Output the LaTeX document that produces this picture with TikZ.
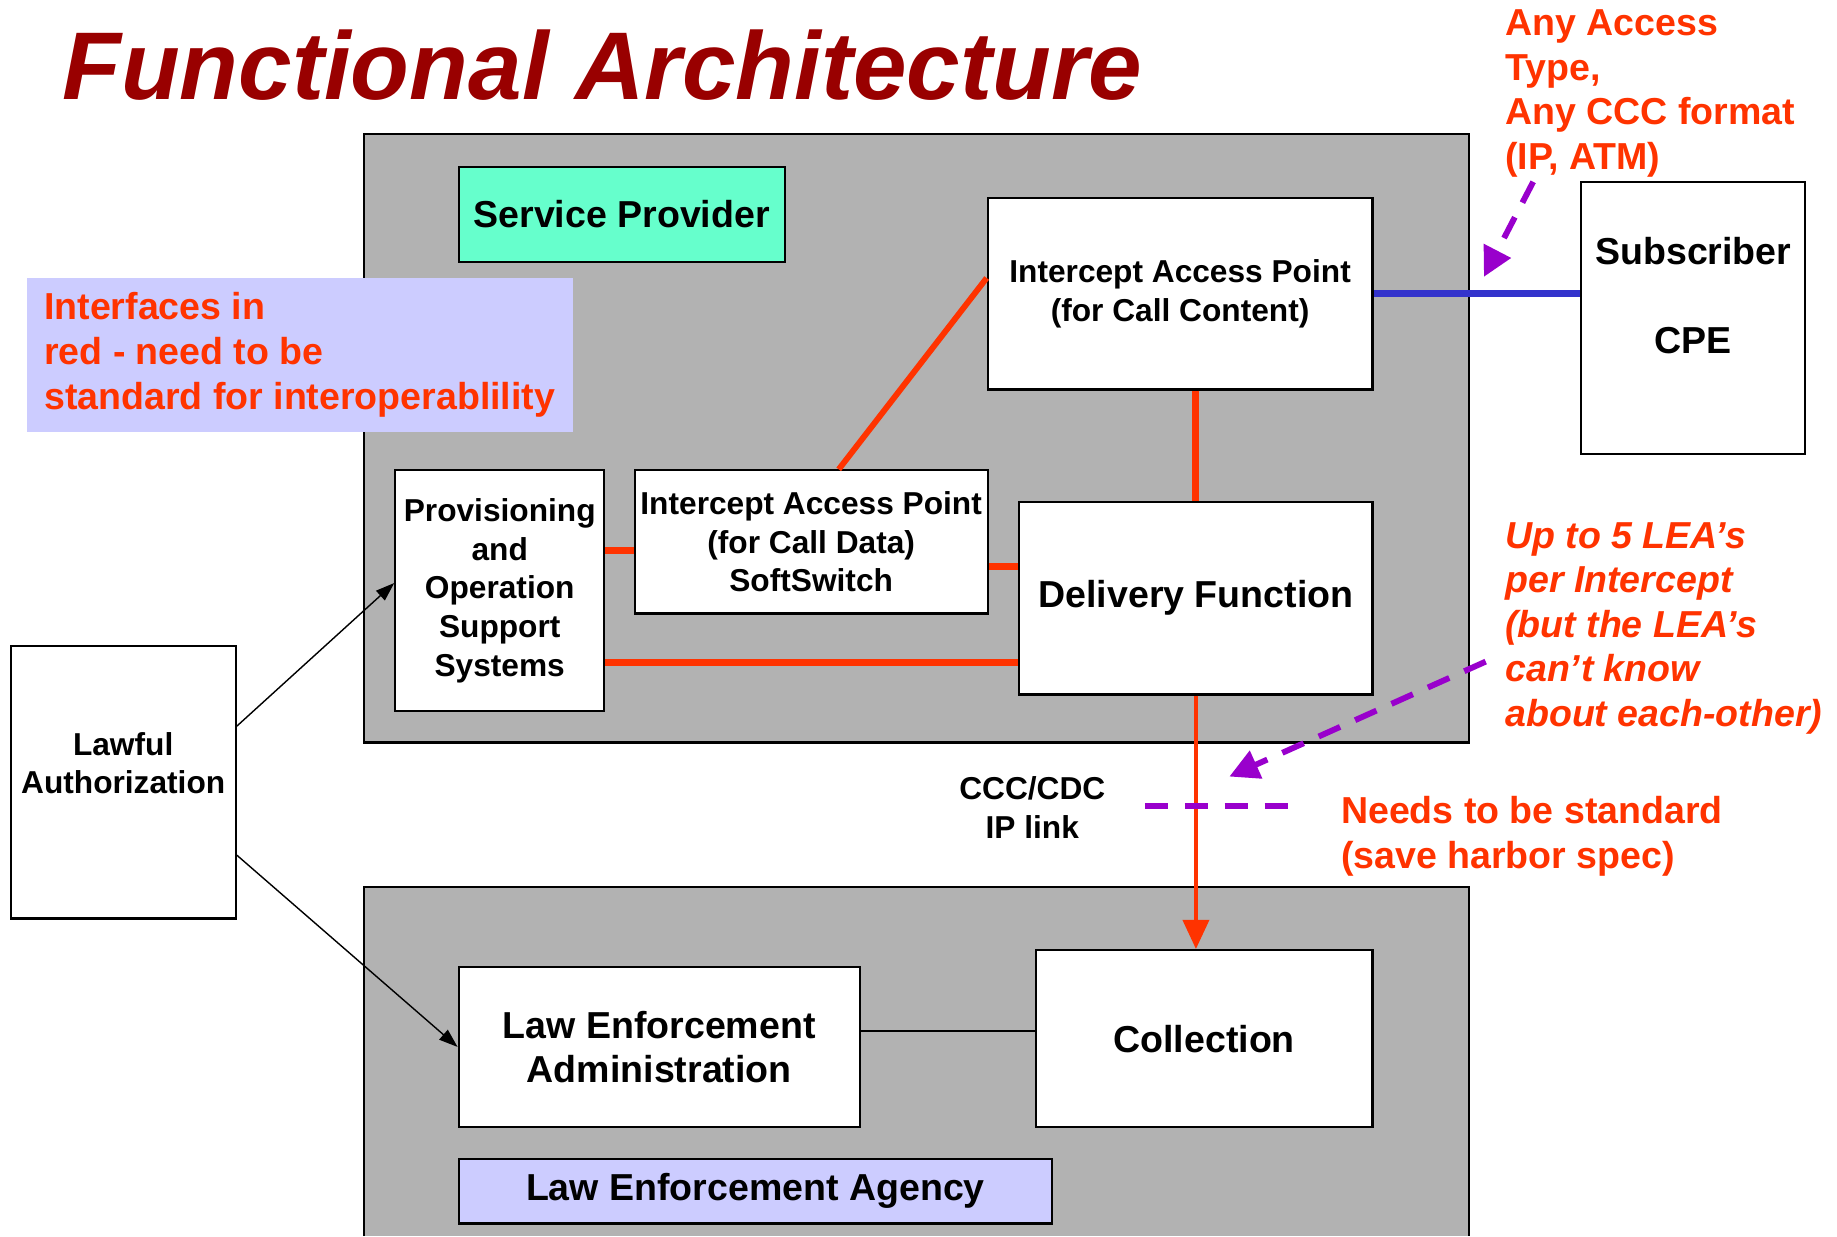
\documentclass[tikz,border=0pt]{standalone}
\usepackage{fontspec}
\setmainfont{Liberation Sans}
\usetikzlibrary{arrows.meta}
\definecolor{regiongray}{HTML}{B2B2B2}
\definecolor{spgreen}{HTML}{66FFCC}
\definecolor{leablue}{HTML}{CCCCFF}
\definecolor{ifacered}{HTML}{FF3300}
\definecolor{cpeblue}{HTML}{3333CC}
\definecolor{hintpurple}{HTML}{9900CC}
\definecolor{titlered}{HTML}{990000}
\begin{document}
\begin{tikzpicture}[x=1pt,y=-1pt,
  box/.style={draw,line width=1.8pt,fill=white,align=center,inner sep=0pt},
  region/.style={draw,line width=1.8pt,fill=regiongray},
  big/.style={font=\fontsize{32}{38}\selectfont\bfseries},
  small/.style={font=\fontsize{27}{33}\selectfont\bfseries},
  note/.style={text=ifacered,align=left,inner sep=0pt,big},
  iface/.style={draw=ifacered,line width=6pt},
  hint/.style={draw=hintpurple,line width=5pt,dash pattern=on 20pt off 14pt,-{Triangle[length=25pt,width=25pt]}},
  ctl/.style={line width=1.2pt,-{Triangle[length=16pt,width=11pt]}}]
\useasboundingbox (0,0) rectangle (1566,1053.7);
\node[anchor=base west,inner sep=0pt,text=titlered,font=\fontsize{82}{90}\selectfont\bfseries\itshape] (title) at (53,85) {Functional Architecture};
\draw[region] (310,114) rectangle (1252,633);
\fill[regiongray] (310,756) rectangle (1252,1053.7);
\draw[line width=1.8pt] (310,1053.7) |- (1252,756) -- (1252,1053.7);
\node[box,fill=spgreen,big,minimum width=278pt,minimum height=81pt] (sp) at (530,182.5) {Service Provider};
\node[fill=leablue,note,inner xsep=15pt,minimum width=465pt,minimum height=131pt] (ifacenote) at (255.5,302.5) {Interfaces in\\red - need to be\\standard for interoperablility};
\node[box,small,minimum width=328pt,minimum height=163pt] (iapcc) at (1006,250.5) {Intercept Access Point\\(for Call Content)};
\node[box,big,minimum width=191pt,minimum height=232pt] (subcpe) at (1443.5,271) {Subscriber\\[38pt]CPE\\~};
\node[box,small,minimum width=178pt,minimum height=205pt] (prov) at (426,503.5) {Provisioning\\and\\Operation\\Support\\Systems};
\node[box,small,minimum width=301pt,minimum height=122pt] (iapcd) at (691.5,462) {Intercept Access Point\\(for Call Data)\\SoftSwitch};
\node[box,big,minimum width=301pt,minimum height=164pt] (delivery) at (1019.5,510) {Delivery Function};
\node[box,small,minimum width=192pt,minimum height=232pt] (lawful) at (105,667) {Lawful\\Authorization\\~};
\node[box,big,minimum width=342pt,minimum height=137pt] (leadmin) at (562,892.5) {Law Enforcement\\Administration};
\node[box,big,minimum width=287pt,minimum height=151pt] (collection) at (1026.5,885.5) {Collection};
\node[box,fill=leablue,big,minimum width=506pt,minimum height=55pt] (agency) at (644,1015.5) {Law Enforcement Agency};
\node[small,align=center] (iplink) at (880,688.5) {CCC/CDC\\IP link};
\node[note,anchor=north west] (anyaccess) at (1283,8) {Any Access\\Type,\\Any CCC format\\(IP, ATM)};
\node[note,font=\fontsize{32}{38}\selectfont\bfseries\itshape,anchor=north west] (fivelea) at (1283,445) {Up to 5 LEA’s\\per Intercept\\(but the LEA’s\\can’t know\\about each-other)};
\node[note,anchor=north west] (needstd) at (1143,679) {Needs to be standard\\(save harbor spec)};
\draw[iface] ([yshift=34.5pt]prov.east) -- ([yshift=34.5pt]prov.east -| iapcd.west);
\draw[iface] ([yshift=-21pt]iapcd.east) -- ([yshift=-21pt]iapcd.east -| delivery.west);
\draw[iface] ([yshift=-61.5pt]prov.east) -- ([yshift=-61.5pt]prov.east -| delivery.west);
\draw[iface,line width=5pt] ([xshift=23.5pt]iapcd.north) -- ([yshift=13.5pt]iapcc.west);
\draw[iface] (delivery.north |- iapcc.south) -- (delivery.north);
\draw[iface,line width=4pt,-{Triangle[length=25pt,width=22pt]}] (delivery.south) -- (delivery.south |- collection.north);
\draw[draw=cpeblue,line width=6pt] (iapcc.east) -- (iapcc.east -| subcpe.west);
\draw[ctl] ([yshift=48pt]lawful.east) -- ([yshift=6.5pt]prov.west);
\draw[ctl] ([yshift=-62pt]lawful.east) -- (leadmin.west);
\draw[line width=1.5pt] ([yshift=13.5pt]leadmin.east) -- ([yshift=13.5pt]leadmin.east -| collection.west);
\coordinate (acctail) at (1307,155);
\coordinate (acctip) at (1265,236);
\coordinate (leatail) at (1266.5,564);
\coordinate (leatip) at (1048,662);
\coordinate (stdleft) at (976,687);
\coordinate (stdright) at (1102,687);
\draw[hint] (acctail) -- (acctip);
\draw[hint] (leatail) -- (leatip);
\draw[hint,-] (stdleft) -- (stdright);
\end{tikzpicture}
\end{document}
